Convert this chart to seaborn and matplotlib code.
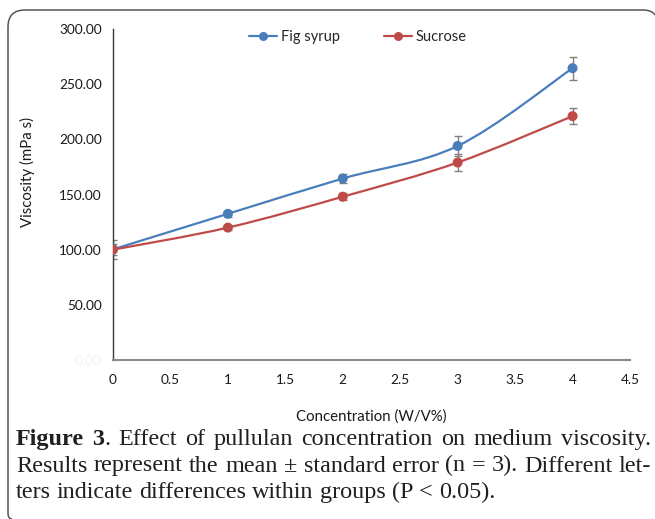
import numpy as np
import pandas as pd
import matplotlib
matplotlib.use("Agg")
import matplotlib.pyplot as plt
import seaborn as sns
from matplotlib.path import Path
from matplotlib.patches import PathPatch
from matplotlib.lines import Line2D

# ---------------- data ----------------
concentration = [0, 1, 2, 3, 4]
fig_syrup = [100.3, 132.5, 164.5, 194.0, 264.5]
fig_syrup_err = [8.5, 2.5, 4.5, 9.0, 10.5]
sucrose = [100.0, 120.0, 148.0, 179.0, 221.0]
sucrose_err = [5.0, 2.0, 3.0, 7.5, 7.0]
series_names = ["Fig syrup", "Sucrose"]
y_ticks = [0, 50, 100, 150, 200, 250, 300]
x_ticks = [0, 0.5, 1, 1.5, 2, 2.5, 3, 3.5, 4, 4.5]
x_label = "Concentration (W/V%)"
y_label = "Viscosity (mPa s)"
caption_lines = [
    "Figure 3. Effect of pullulan concentration on medium viscosity.",
    "Results represent the mean \u00b1 standard error (n = 3). Different let-",
    "ters indicate differences within groups (P < 0.05).",
]
caption_bold = ["Figure", "3"]

colors = {"Fig syrup": "#4A7EBB", "Sucrose": "#BE4B48"}

W, H = 655, 519
sns.set_theme(style="white")
plt.rcParams["font.family"] = ["Lato", "DejaVu Sans"]

fig = plt.figure(figsize=(W / 100, H / 100), dpi=100)
fig.patch.set_facecolor("white")
ax = fig.add_axes([113 / W, 1 - 360 / H, 517 / W, 331 / H])

df = pd.DataFrame({
    "Concentration": concentration * 2,
    "Viscosity": fig_syrup + sucrose,
    "err": fig_syrup_err + sucrose_err,
    "Series": [series_names[0]] * len(concentration) + [series_names[1]] * len(concentration),
})


def smooth_path(xs, ys):
    """Excel-like smoothed line: cubic Bezier segments through data points."""
    pts = np.column_stack([xs, ys]).astype(float)
    n = len(pts)
    verts = [pts[0]]
    codes = [Path.MOVETO]
    for i in range(n - 1):
        p0 = pts[i - 1] if i > 0 else pts[i]
        p1 = pts[i]
        p2 = pts[i + 1]
        p3 = pts[i + 2] if i + 2 < n else pts[i + 1]
        c1 = p1 + (p2 - p0) / 6.0
        c2 = p2 - (p3 - p1) / 6.0
        verts += [c1, c2, p2]
        codes += [Path.CURVE4] * 3
    return Path(verts, codes)


for name in series_names:
    sub = df[df["Series"] == name]
    ax.errorbar(sub["Concentration"], sub["Viscosity"], yerr=sub["err"], fmt="none",
                ecolor="#808080", elinewidth=1.0, capsize=3.0, capthick=1.0, zorder=2)
for name in series_names:
    sub = df[df["Series"] == name]
    ax.add_patch(PathPatch(smooth_path(sub["Concentration"].values, sub["Viscosity"].values),
                           facecolor="none", edgecolor=colors[name], lw=1.6, zorder=3,
                           transform=ax.transData))
sns.scatterplot(data=df, x="Concentration", y="Viscosity", hue="Series", palette=colors,
                s=52, edgecolor=None, linewidth=0, legend=False, ax=ax, zorder=4)

ax.set_xlim(0, 4.5)
ax.set_ylim(0, 300)
ax.set_xticks(x_ticks)
ax.set_xticklabels([f"{t:g}" for t in x_ticks], fontsize=9.8, color="#1a1a1a")
ax.set_yticks(y_ticks)
ylabels = ax.set_yticklabels([f"{t:.2f}" for t in y_ticks], fontsize=9.8, color="#1a1a1a")
ylabels[0].set_color("#f4f4f4")
ax.tick_params(axis="both", length=0, pad=8)
ax.tick_params(axis="x", pad=10)
ax.set_xlabel(x_label, fontsize=10.8, color="#1a1a1a", labelpad=17)
ax.set_ylabel(y_label, fontsize=10.8, color="#1a1a1a")
ax.yaxis.set_label_coords(-0.151, 0.568)
ax.grid(False)
for s in ["top", "right"]:
    ax.spines[s].set_visible(False)
ax.spines["left"].set_color("#3a3a3a")
ax.spines["left"].set_linewidth(1.0)
ax.spines["bottom"].set_color("#8a8a8a")
ax.spines["bottom"].set_linewidth(1.5)

handles = [Line2D([], [], color=colors[n], lw=1.6, marker="o", markersize=6.5,
                  markeredgewidth=0) for n in series_names]
ax.legend(handles, series_names, loc="center", bbox_to_anchor=(0.474, 0.976), ncol=2,
          frameon=False, fontsize=10.5, handlelength=1.9, handletextpad=0.3,
          columnspacing=3.0)

# ---------------- frame ----------------
def px(x, y):
    return (x / W, 1 - y / H)

frame_pts = [px(12, 519), px(8, 519), px(8, 513), px(8, 27), px(8, 10), px(25, 10),
             px(643, 10), px(652, 10), px(655, 15)]
frame_codes = [Path.MOVETO, Path.CURVE3, Path.CURVE3, Path.LINETO, Path.CURVE3, Path.CURVE3,
               Path.LINETO, Path.CURVE3, Path.CURVE3]
fig.add_artist(PathPatch(Path(frame_pts, frame_codes), facecolor="none", edgecolor="#555555",
                         lw=1.1, transform=fig.transFigure))

# ---------------- caption ----------------
renderer = fig.canvas.get_renderer()
serif = ["Liberation Serif", "DejaVu Serif"]


def text_width(s, size, bold=False):
    t = fig.text(0, 0, s, fontsize=size, family=serif, fontweight="bold" if bold else "normal")
    w = t.get_window_extent(renderer).width
    t.remove()
    return w

# fit the font size so the last line spans its measured width
target = 493 - 16
fs = 10 * target / text_width(caption_lines[2], 10)

left, right = 16, 651
baselines = [445, 471.5, 498]
space_w = text_width("a a", fs) - text_width("aa", fs)

for li, line in enumerate(caption_lines):
    words = line.split(" ")
    pieces_per_word = []
    for wi, w in enumerate(words):
        if li == 0 and w in caption_bold:
            pieces_per_word.append([(w, True)])
        elif li == 0 and w.rstrip(".") in caption_bold and w.endswith("."):
            pieces_per_word.append([(w.rstrip("."), True), (".", False)])
        else:
            pieces_per_word.append([(w, False)])
    widths = [[text_width(p, fs, b) for p, b in pw] for pw in pieces_per_word]
    total = sum(sum(w) for w in widths)
    if li < len(caption_lines) - 1:
        gap = (right - left - total) / (len(words) - 1)
    else:
        gap = space_w
    x = left
    for pw, ww in zip(pieces_per_word, widths):
        for (p, b), w in zip(pw, ww):
            fig.text(x / W, 1 - baselines[li] / H, p, fontsize=fs, family=serif,
                     fontweight="bold" if b else "normal", color="#231f20",
                     ha="left", va="baseline")
            x += w
        x += gap

fig.savefig("out.png", dpi=100, facecolor="white")
